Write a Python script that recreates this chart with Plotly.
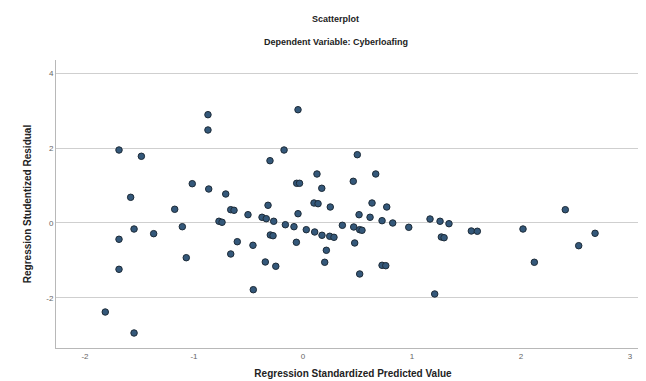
import plotly.graph_objects as go

predicted = [-1.814, -1.688, -1.688, -1.688, -1.581, -1.550, -1.550, -1.483, -1.370, -1.177,
             -1.107, -1.071, -1.016, -0.872, -0.872, -0.865, -0.771, -0.743, -0.709, -0.663,
             -0.633, -0.663, -0.603, -0.505, -0.459, -0.456, -0.376, -0.337, -0.346, -0.321,
             -0.303, -0.300, -0.275, -0.269, -0.250, -0.174, -0.162, -0.083, -0.061, -0.058,
             -0.032, -0.046, -0.046, 0.030, 0.101, 0.138, 0.107, 0.128, 0.172, 0.174,
             0.199, 0.214, 0.245, 0.284, 0.250, 0.361, 0.461, 0.465, 0.474, 0.498,
             0.514, 0.520, 0.541, 0.520, 0.615, 0.633, 0.667, 0.725, 0.725, 0.759,
             0.768, 0.823, 0.970, 1.165, 1.208, 1.257, 1.269, 1.294, 1.339, 1.544,
             1.599, 2.018, 2.122, 2.406, 2.529, 2.679]
residual = [-2.383, 1.954, -0.436, -1.240, 0.688, -0.161, -2.945, 1.786, -0.286, 0.367,
            -0.099, -0.929, 1.052, 2.900, 2.490, 0.910, 0.046, 0.019, 0.776, 0.356,
            0.340, -0.830, -0.501, 0.222, -0.597, -1.786, 0.153, 0.115, -1.044, 0.474,
            1.668, -0.321, -0.340, 0.046, -1.159, 1.954, -0.046, -0.099, -0.517, 1.063,
            1.063, 3.033, 0.249, -0.179, 0.535, 0.517, -0.241, 1.312, 0.929, -0.329,
            -1.052, -0.731, -0.356, -0.383, 0.428, -0.062, 1.116, -0.107, -0.535, 1.829,
            0.222, -0.179, -0.195, -1.365, 0.153, 0.535, 1.312, 0.062, -1.133, -1.143,
            0.428, 0.000, -0.115, 0.107, -1.901, 0.046, -0.375, -0.394, -0.019, -0.214,
            -0.222, -0.161, -1.052, 0.356, -0.608, -0.276]

x_ticks = [-2, -1, 0, 1, 2, 3]
y_ticks = [-2, 0, 2, 4]

fig = go.Figure()
fig.add_trace(go.Scatter(
    x=predicted, y=residual, mode="markers",
    marker=dict(size=6.5, color="#34587a", line=dict(color="#1d2b38", width=1)),
    showlegend=False, hoverinfo="x+y"))

font_family = "Liberation Sans, Arial, sans-serif"

fig.update_layout(
    width=646, height=381,
    margin=dict(l=48, r=4, t=52, b=41),
    paper_bgcolor="white", plot_bgcolor="white",
    font=dict(family=font_family, color="#333"),
    xaxis=dict(range=[-2.266, 3.183], tickvals=x_ticks, ticktext=[str(v) for v in x_ticks],
               showgrid=False, zeroline=False, showline=True, linecolor="#b8b8b8", linewidth=1,
               mirror=False, ticks="", tickfont=dict(size=8, color="#666"),
               title=dict(text="<b>Regression Standardized Predicted Value</b>",
                          font=dict(size=10, color="#222"), standoff=10)),
    yaxis=dict(range=[-3.347, 4.364], tickvals=y_ticks, ticktext=[str(v) for v in y_ticks],
               showgrid=True, gridcolor="#cfcfcf", gridwidth=1, zeroline=False,
               showline=True, linecolor="#b8b8b8", linewidth=1, ticks="",
               tickfont=dict(size=8, color="#666"),
               title=dict(text="<b>Regression Studentized Residual</b>",
                          font=dict(size=10, color="#222"), standoff=12)),
    annotations=[
        dict(text="<b>Scatterplot</b>", xref="paper", yref="paper", x=0.471, y=1.0,
             yshift=41, showarrow=False, xanchor="center", yanchor="middle",
             font=dict(size=9, color="#222")),
        dict(text="<b>Dependent Variable: Cyberloafing</b>", xref="paper", yref="paper",
             x=0.471, y=1.0, yshift=18, showarrow=False, xanchor="center", yanchor="middle",
             font=dict(size=9, color="#222")),
    ],
)

fig.write_html("out.html")
